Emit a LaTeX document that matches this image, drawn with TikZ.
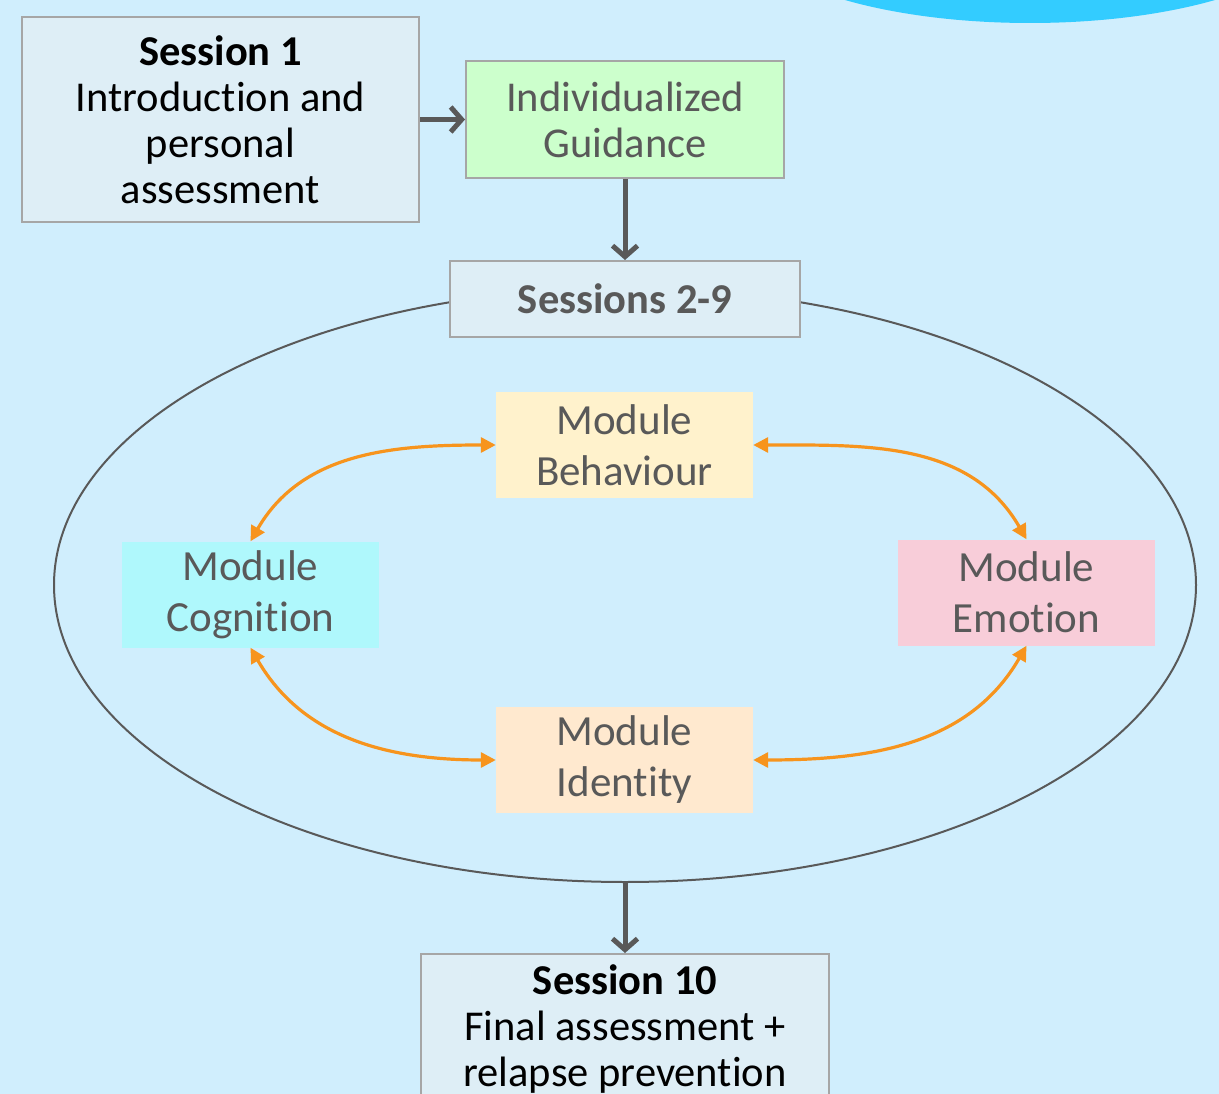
\documentclass[tikz,border=0pt]{standalone}
\usepackage{fontspec}
\setmainfont[RawFeature={-liga;-clig;-calt;-dlig}]{Carlito}
\usetikzlibrary{shapes.geometric,arrows.meta,positioning}
\definecolor{bgblue}{HTML}{D0EEFD}
\definecolor{blob}{HTML}{33CCFF}
\definecolor{sessfill}{HTML}{DEEEF6}
\definecolor{boxline}{HTML}{A6A6A6}
\definecolor{darkgrey}{HTML}{595959}
\definecolor{guidefill}{HTML}{CCFFCC}
\definecolor{behfill}{HTML}{FFF2CC}
\definecolor{cogfill}{HTML}{AFF8FC}
\definecolor{emofill}{HTML}{F8CDD9}
\definecolor{idfill}{HTML}{FFE9CF}
\definecolor{orange}{HTML}{F7941D}
\tikzstyle{session} = [rectangle, draw=boxline, line width=2pt, fill=sessfill, text=black, align=center, font=\fontsize{42.5}{46}\selectfont]
\tikzstyle{guide} = [rectangle, draw=boxline, line width=2pt, fill=guidefill, text=darkgrey, align=center, font=\fontsize{42.5}{46}\selectfont, minimum width=318pt, minimum height=117pt]
\tikzstyle{module} = [rectangle, draw=none, text=darkgrey, align=center, font=\fontsize{43}{51}\selectfont, minimum width=257pt, minimum height=106pt]
\tikzstyle{cycle} = [ellipse, draw=darkgrey, line width=2pt, minimum width=1142pt, minimum height=594pt, inner sep=0pt]
\tikzstyle{flow} = [draw=darkgrey, line width=5pt, -{Straight Barb[length=11pt,width=25pt]}]
\tikzstyle{link} = [draw=orange, line width=3.2pt, {Triangle[length=15pt,width=15pt]}-{Triangle[length=15pt,width=15pt]}]

\begin{document}
\begin{tikzpicture}[x=1pt, y=1pt]
\clip (0,0) rectangle (1219,-1094);
\fill[bgblue] (0,0) rectangle (1219,-1094);
\fill[blob] (1030,77) ellipse (290 and 100);

%image
\node[session, minimum width=397pt, minimum height=205pt] (s1) at (220.5,-119.5) {\textbf{Session 1}\\Introduction and\\personal\\assessment};
\node[guide, right = 45pt of s1] (guid) {Individualized\\Guidance};
\node[cycle] (cyc) at (625,-585) {};
\node[session, text=darkgrey, minimum width=350pt, minimum height=76pt, below = 81pt of guid] (s29) {\textbf{Sessions 2-9}};

\node[module, fill=behfill] (beh) at (624.5,-445) {Module\\Behaviour};
\node[module, fill=cogfill] (cog) at (250.5,-594.5) {Module\\Cognition};
\node[module, fill=emofill] (emo) at (1026.5,-592.5) {Module\\Emotion};
\node[module, fill=idfill] (ide) at (624.5,-760) {Module\\Identity};

\node[session, minimum width=408pt, minimum height=150pt, below = 70pt of cyc] (s10) {\textbf{Session 10}\\Final assessment +\\relapse prevention};

%paths
\path[flow] (s1) -- (guid);
\path[flow] (guid) -- (s29);
\path[flow] (cyc.south) -- (s10);

\path[link] (beh.west) to[out=180, in=60] (cog.north);
\path[link] (beh.east) to[out=0, in=120] (emo.north);
\path[link] (cog.south) to[out=-60, in=180] (ide.west);
\path[link] (emo.south) to[out=-120, in=0] (ide.east);

\end{tikzpicture}
\end{document}
